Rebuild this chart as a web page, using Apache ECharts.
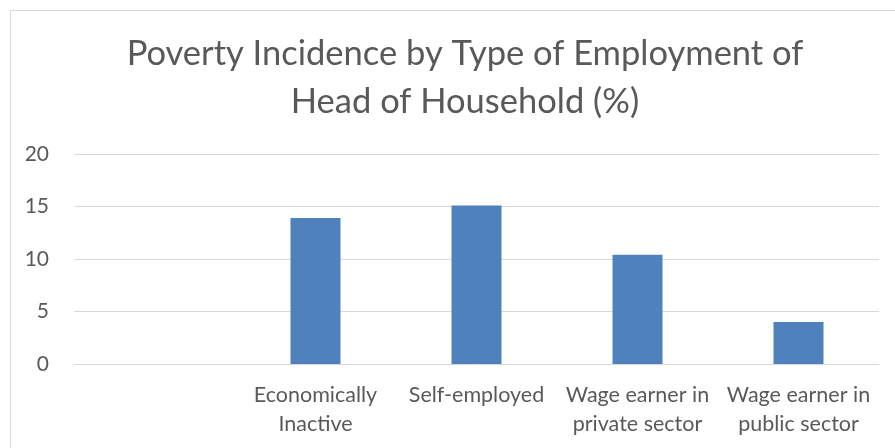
<!DOCTYPE html>
<html>
<head>
<meta charset="utf-8">
<script src="https://cdn.jsdelivr.net/npm/echarts@6/dist/echarts.min.js"></script>
<style>
  html, body { margin: 0; padding: 0; background: #fff; }
  #chart { width: 895px; height: 448px; }
</style>
</head>
<body>
<div id="chart"></div>
<script>
const titleText = 'Poverty Incidence by Type of Employment of\nHead of Household (%)';
const categories = ['', 'Economically\nInactive', 'Self-employed', 'Wage earner in\nprivate sector', 'Wage earner in\npublic sector'];
const incidence = [null, 13.9, 15.1, 10.4, 4.0];
const yTicks = { min: 0, max: 20, interval: 5 };

const textColor = '#595959';
const lineColor = '#d9d9d9';
const barColor = '#4f81bd';
const font = 'Lato';

let chart = echarts.init(document.getElementById('chart'));
let option = {
    animation: false,
    title: {
        text: titleText,
        left: 460,
        textAlign: 'center',
        top: 25,
        textStyle: {
            color: textColor,
            fontFamily: font,
            fontWeight: 'normal',
            fontSize: 34.5,
            lineHeight: 48
        }
    },
    graphic: [{
        type: 'rect',
        shape: { x: 10.5, y: 10.5, width: 900, height: 460 },
        style: { fill: 'none', stroke: lineColor, lineWidth: 1 },
        silent: true
    }],
    grid: {
        left: 74,
        right: 16,
        top: 154,
        bottom: 84
    },
    xAxis: {
        type: 'category',
        data: categories,
        axisTick: { show: false },
        axisLine: { show: true, lineStyle: { color: lineColor, width: 1 } },
        axisLabel: {
            color: textColor,
            fontFamily: font,
            fontSize: 21.5,
            lineHeight: 29,
            margin: 17,
            interval: 0
        }
    },
    yAxis: {
        type: 'value',
        min: yTicks.min,
        max: yTicks.max,
        interval: yTicks.interval,
        axisLine: { show: false },
        axisTick: { show: false },
        splitLine: { lineStyle: { color: lineColor, width: 1 } },
        axisLabel: {
            color: textColor,
            fontFamily: font,
            fontSize: 21,
            margin: 25
        }
    },
    series: [{
        type: 'bar',
        data: incidence,
        barWidth: 50,
        itemStyle: { color: barColor }
    }]
};
chart.setOption(option);
window.addEventListener('resize', function () { chart.resize(); });
</script>
</body>
</html>
